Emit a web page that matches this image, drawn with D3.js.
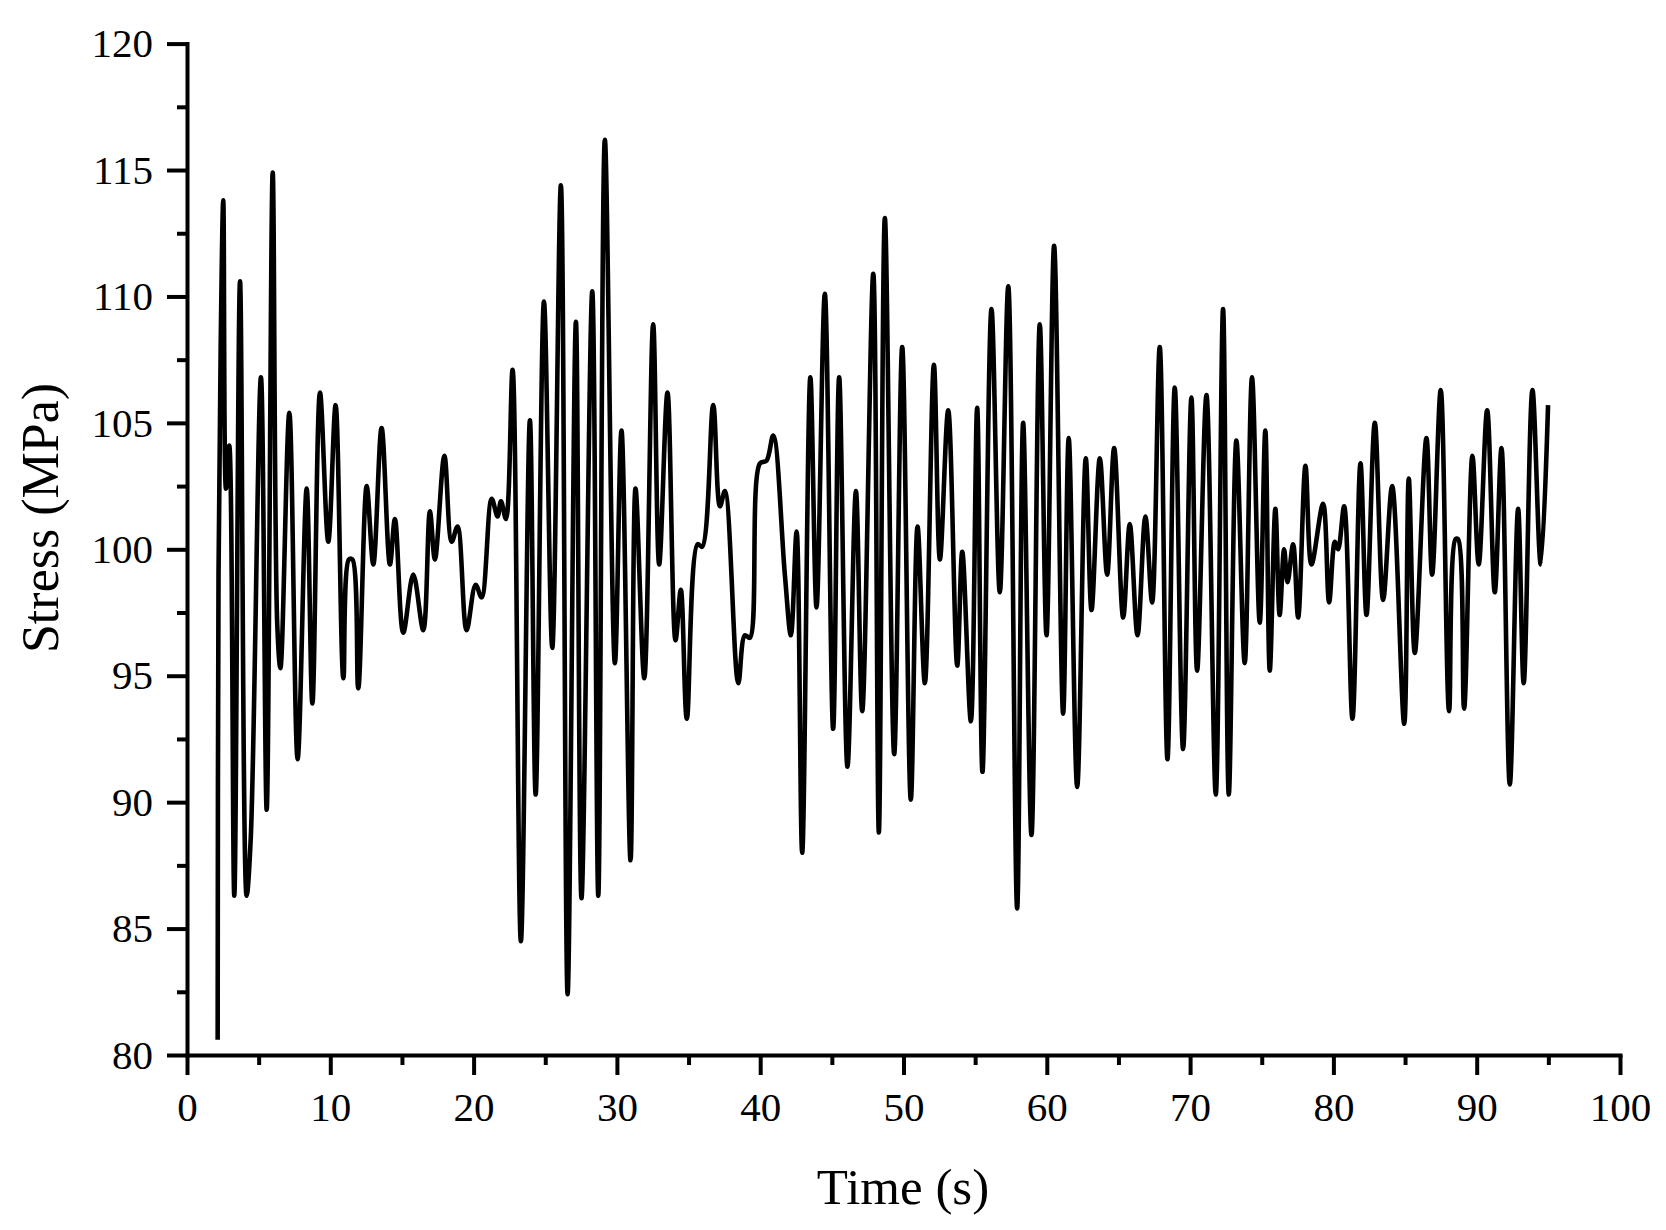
<!DOCTYPE html>
<html>
<head>
<meta charset="utf-8">
<script src="https://cdn.jsdelivr.net/npm/d3@7"></script>
<style>
  html, body { margin: 0; padding: 0; background: #fff; }
  svg { display: block; }
  text { font-family: "Liberation Serif", "Times New Roman", serif; fill: #000; }
</style>
</head>
<body>
<svg id="chart" width="1666" height="1230"></svg>
<script>
// ---- data (time in s, stress in MPa) ----
const timeValues = [
  2.14, 2.20, 2.35, 2.53, 2.72, 2.95, 3.30, 3.70, 4.16, 4.45,
  5.16, 5.56, 5.98, 6.30, 6.52, 7.14, 7.72, 8.35, 8.75, 9.28,
  9.86, 10.37, 10.91, 11.30, 11.54, 11.95, 12.54, 13.00, 13.58, 14.16,
  14.51, 15.09, 15.79, 16.49, 16.95, 17.30, 17.96, 18.47, 18.88, 19.51,
  20.14, 20.56, 21.26, 21.67, 21.91, 22.26, 22.72, 23.30, 23.93, 24.33,
  24.91, 25.49, 26.09, 26.56, 27.14, 27.53, 28.28, 28.70, 29.16, 29.86,
  30.32, 30.95, 31.30, 31.91, 32.53, 32.95, 33.53, 34.09, 34.46, 34.88,
  35.63, 35.95, 36.72, 37.19, 37.54, 38.47, 38.93, 39.28, 39.98, 40.44,
  40.91, 41.72, 42.14, 42.54, 42.93, 43.50, 43.93, 44.51, 45.09, 45.51,
  46.09, 46.68, 47.12, 47.89, 48.28, 48.70, 49.35, 49.91, 50.51, 50.98,
  51.49, 52.12, 52.54, 53.12, 53.75, 54.10, 54.70, 55.14, 55.51, 56.14,
  56.72, 57.31, 57.93, 58.35, 58.93, 59.51, 59.98, 60.51, 61.14, 61.53,
  62.12, 62.72, 63.12, 63.70, 64.21, 64.70, 65.33, 65.79, 66.33, 66.88,
  67.35, 67.88, 68.42, 68.93, 69.51, 70.09, 70.49, 71.14, 71.79, 72.30,
  72.70, 73.23, 73.81, 74.32, 74.86, 75.25, 75.56, 75.95, 76.25, 76.56,
  76.80, 77.19, 77.54, 78.05, 78.47, 79.28, 79.70, 80.10, 80.33, 80.75,
  81.33, 81.89, 82.31, 82.89, 83.47, 84.10, 84.94, 85.26, 85.68, 86.49,
  86.89, 87.49, 88.07, 88.52, 88.70, 89.12, 89.70, 90.14, 90.73, 91.26,
  91.73, 92.31, 92.89, 93.28, 93.89, 94.47, 94.98
];
const stressValues = [
  80.6, 99.0, 108.0, 113.8, 102.4, 104.1, 86.3, 110.6, 86.3, 88.6,
  106.8, 89.7, 114.9, 97.0, 95.3, 105.4, 91.7, 102.4, 93.9, 106.2,
  100.3, 105.7, 94.9, 99.6, 99.6, 94.5, 102.5, 99.4, 104.8, 99.4,
  101.2, 96.7, 99.0, 96.8, 101.5, 99.6, 103.7, 100.3, 100.9, 96.8,
  98.6, 98.1, 102.0, 101.3, 101.9, 101.2, 107.1, 84.5, 105.1, 90.3,
  109.8, 96.1, 114.4, 82.4, 109.0, 86.2, 110.2, 86.3, 116.2, 95.5,
  104.7, 87.7, 102.4, 94.9, 108.9, 99.4, 106.2, 96.4, 98.4, 93.3,
  100.2, 100.1, 105.7, 101.7, 102.3, 94.7, 96.6, 96.5, 103.4, 103.5,
  104.5, 99.0, 96.6, 100.7, 88.0, 106.8, 97.7, 110.1, 92.9, 106.8,
  91.4, 102.3, 93.6, 110.9, 88.8, 113.1, 91.9, 108.0, 90.1, 100.9,
  94.7, 107.3, 99.6, 105.5, 95.4, 99.9, 93.2, 105.6, 91.2, 109.5,
  98.3, 110.4, 85.8, 105.0, 88.7, 108.9, 96.6, 112.0, 93.5, 104.4,
  90.6, 103.6, 97.6, 103.6, 99.0, 104.0, 97.3, 101.0, 96.6, 101.3,
  97.9, 108.0, 91.7, 106.4, 92.1, 106.0, 95.2, 106.1, 90.3, 109.5,
  90.3, 104.3, 95.5, 106.8, 97.1, 104.7, 95.2, 101.6, 97.4, 100.0,
  98.7, 100.2, 97.3, 103.3, 99.4, 101.8, 97.9, 100.3, 100.0, 101.7,
  93.3, 103.4, 97.4, 105.0, 98.0, 102.5, 93.1, 102.8, 95.9, 104.4,
  99.0, 106.3, 93.6, 100.4, 100.4, 93.7, 103.7, 99.4, 105.5, 98.3,
  104.0, 90.7, 101.6, 94.7, 106.3, 99.4, 105.7
];
const xMajorTicks = [0, 10, 20, 30, 40, 50, 60, 70, 80, 90, 100];
const xMinorTicks = [5, 15, 25, 35, 45, 55, 65, 75, 85, 95];
const yMajorTicks = [80, 85, 90, 95, 100, 105, 110, 115, 120];
const yMinorTicks = [82.5, 87.5, 92.5, 97.5, 102.5, 107.5, 112.5, 117.5];
const xTitle = "Time (s)";
const yTitle = "Stress (MPa)";

// ---- layout ----
const svg = d3.select("#chart");
const x = d3.scaleLinear().domain([0, 100]).range([187, 1620]);
const y = d3.scaleLinear().domain([80, 120]).range([1055, 43.6]);

const data = timeValues.map((t, i) => ({ t, v: stressValues[i] }));

// line
const line = d3.line()
  .x(d => x(d.t))
  .y(d => y(d.v))
  .curve(d3.curveCatmullRom.alpha(0.5));

svg.append("path")
  .datum(data)
  .attr("fill", "none")
  .attr("stroke", "#000")
  .attr("stroke-width", 4.6)
  .attr("stroke-linejoin", "round")
  .attr("d", line);

// axes
function styleAxis(g) {
  g.select(".domain").attr("stroke", "#000").attr("stroke-width", 4).attr("stroke-linecap", "square");
  g.selectAll(".tick line").attr("stroke", "#000").attr("stroke-width", 4);
  g.selectAll(".tick text").attr("font-size", 41).attr("font-family", "Liberation Serif, Times New Roman, serif");
}

// minor ticks
svg.append("g")
  .attr("transform", "translate(0,1055)")
  .call(d3.axisBottom(x).tickValues(xMinorTicks).tickSize(10).tickSizeOuter(0).tickFormat(""))
  .call(g => { styleAxis(g); g.select(".domain").remove(); });
svg.append("g")
  .attr("transform", "translate(187,0)")
  .call(d3.axisLeft(y).tickValues(yMinorTicks).tickSize(10).tickSizeOuter(0).tickFormat(""))
  .call(g => { styleAxis(g); g.select(".domain").remove(); });

// major axes
svg.append("g")
  .attr("transform", "translate(0,1055)")
  .call(d3.axisBottom(x).tickValues(xMajorTicks).tickSize(20).tickSizeOuter(0).tickPadding(17).tickFormat(d3.format("d")))
  .call(styleAxis);
svg.append("g")
  .attr("transform", "translate(187,0)")
  .call(d3.axisLeft(y).tickValues(yMajorTicks).tickSize(20).tickSizeOuter(0).tickPadding(14).tickFormat(d3.format("d")))
  .call(styleAxis);

// titles
svg.append("text")
  .attr("x", 903)
  .attr("y", 1204)
  .attr("text-anchor", "middle")
  .attr("font-size", 51)
  .text(xTitle);

svg.append("text")
  .attr("transform", "translate(58,518) rotate(-90)")
  .attr("text-anchor", "middle")
  .attr("font-size", 52)
  .text(yTitle);
</script>
</body>
</html>
